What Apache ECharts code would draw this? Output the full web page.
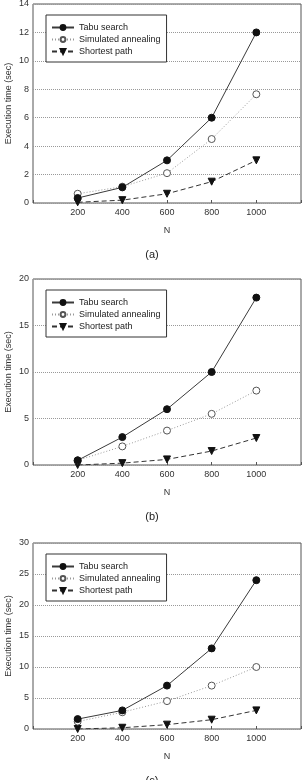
<!DOCTYPE html>
<html lang="en" style="height: 100%">
<head>
  <meta charset="utf-8">
</head>
<body style="height: 100%; margin: 0; background: #fff">
<div id="container" style="width: 304px; height: 780px"></div>

<script type="text/javascript" src="https://fastly.jsdelivr.net/npm/echarts@6/dist/echarts.min.js"></script>
<script type="text/javascript">
  // problem sizes
  var nValues = [200, 400, 600, 800, 1000];
  var seriesNames = ['Tabu search', 'Simulated annealing', 'Shortest path'];
  var panelLabels = ['(a)', '(b)', '(c)'];

  // (a)
  var tabuA = [0.35, 1.1, 3.0, 6.0, 12.0];
  var annealA = [0.65, 1.15, 2.1, 4.5, 7.65];
  var shortestA = [0.05, 0.2, 0.65, 1.5, 3.0];
  // (b)
  var tabuB = [0.5, 3.0, 6.0, 10.0, 18.0];
  var annealB = [0.5, 2.0, 3.7, 5.5, 8.0];
  var shortestB = [0.0, 0.2, 0.6, 1.5, 2.9];
  // (c)
  var tabuC = [1.6, 3.0, 7.0, 13.0, 24.0];
  var annealC = [1.2, 2.7, 4.5, 7.0, 10.0];
  var shortestC = [0.0, 0.2, 0.7, 1.5, 3.0];

  var yMax = [14, 20, 30];
  var yStep = [2, 5, 5];

  var panels = [
    [tabuA, annealA, shortestA],
    [tabuB, annealB, shortestB],
    [tabuC, annealC, shortestC]
  ];

  var dom = document.getElementById('container');
  var myChart = echarts.init(dom, null, { renderer: 'canvas' });

  var font = 'Liberation Sans, Arial, sans-serif';
  var gridTops = [4, 279, 543];
  var gridHeights = [199, 186, 186];

  function pairs(vals) {
    return vals.map(function (v, i) { return [nValues[i], v]; });
  }

  var styles = [
    { symbol: 'circle', size: 7, rotate: 0, fill: '#111', stroke: '#111', line: { color: '#3a3a3a', type: 'solid' } },
    { symbol: 'circle', size: 7, rotate: 0, fill: '#fff', stroke: '#555', line: { color: '#999', type: [1, 2] } },
    { symbol: 'triangle', size: 7, rotate: 180, fill: '#111', stroke: '#111', line: { color: '#333', type: [5, 3] } }
  ];

  var grids = [], xAxes = [], yAxes = [], series = [], legends = [], titles = [];

  panels.forEach(function (panel, p) {
    grids.push({
      left: 33, width: 268, top: gridTops[p], height: gridHeights[p],
      containLabel: false, outerBoundsMode: 'none',
      show: true, borderColor: '#555', borderWidth: 1, backgroundColor: 'transparent'
    });
    xAxes.push({
      type: 'value', gridIndex: p, min: 0, max: 1200, interval: 200,
      name: 'N', nameLocation: 'middle', nameGap: 23,
      nameTextStyle: { fontFamily: font, fontSize: 9, color: '#333' },
      axisLine: { show: false },
      axisTick: { show: true, inside: true, length: 3, lineStyle: { color: '#555' } },
      splitLine: { show: false },
      axisLabel: {
        fontFamily: font, fontSize: 9, color: '#333', margin: 5,
        formatter: function (v) { return (v === 0 || v === 1200) ? '' : String(v); }
      }
    });
    yAxes.push({
      type: 'value', gridIndex: p, min: 0, max: yMax[p], interval: yStep[p],
      name: 'Execution time (sec)', nameLocation: 'middle', nameGap: 20,
      nameMoveOverlap: false,
      nameTextStyle: { fontFamily: font, fontSize: 9, color: '#333' },
      axisLine: { show: false },
      axisTick: { show: false },
      splitLine: { show: true, lineStyle: { color: '#999', type: [1, 1], width: 1 } },
      axisLabel: { fontFamily: font, fontSize: 9, color: '#333', margin: 4 }
    });
    panel.forEach(function (vals, s) {
      var st = styles[s];
      series.push({
        name: seriesNames[s],
        type: 'line',
        xAxisIndex: p, yAxisIndex: p,
        data: pairs(vals),
        symbol: st.symbol,
        symbolSize: st.size,
        symbolRotate: st.rotate,
        showAllSymbol: true,
        itemStyle: { color: st.fill, borderColor: st.stroke, borderWidth: 1 },
        lineStyle: { color: st.line.color, type: st.line.type, width: 1 },
        z: 3 - s,
        animation: false
      });
    });
    legends.push({
      orient: 'vertical', left: 46, top: gridTops[p] + 11,
      data: seriesNames,
      itemWidth: 22, itemHeight: 6, itemGap: 3,
      padding: [8, 6, 6, 5],
      borderColor: '#333', borderWidth: 1, backgroundColor: '#fff',
      textStyle: { fontFamily: font, fontSize: 9, color: '#222' },
      selectedMode: false
    });
    titles.push({
      text: panelLabels[p], left: 'center',
      top: gridTops[p] + gridHeights[p] + 41,
      textStyle: { fontFamily: font, fontSize: 11, fontWeight: 'normal', color: '#222' }
    });
  });

  var option = {
    animation: false,
    title: titles,
    legend: legends,
    grid: grids,
    xAxis: xAxes,
    yAxis: yAxes,
    series: series
  };

  myChart.setOption(option);
  window.addEventListener('resize', myChart.resize);
</script>
</body>
</html>
